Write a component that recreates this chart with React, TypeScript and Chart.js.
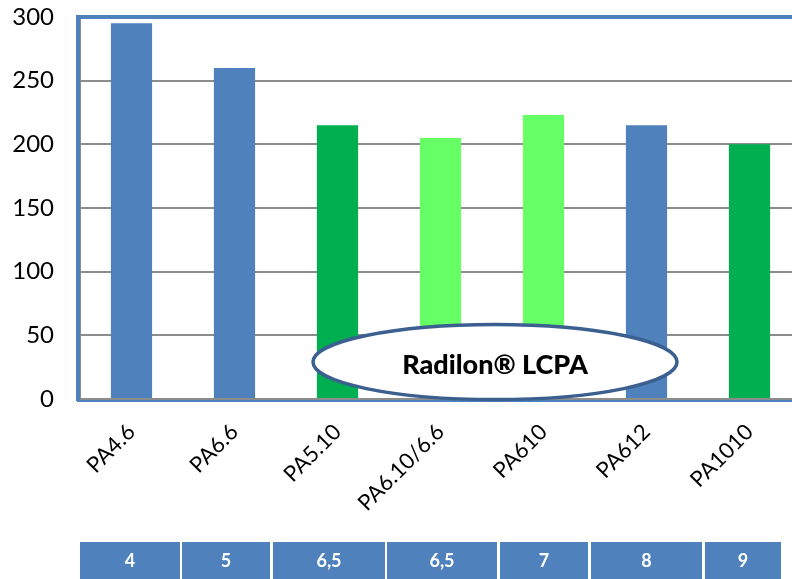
import { useEffect, useRef } from "react";
import { Chart, registerables } from "chart.js";

Chart.register(...registerables);

const categories = ["PA4.6", "PA6.6", "PA5.10", "PA6.10/6.6", "PA610", "PA612", "PA1010"];
const meltingPoints = [295, 260, 215, 205, 223, 215, 200];
const materialGroups = ["standard", "standard", "lcpa", "lcpaBlend", "lcpaBlend", "standard", "lcpa"];
const yTickValues = [0, 50, 100, 150, 200, 250, 300];
const carbonRow = ["4", "5", "6,5", "6,5", "7", "8", "9"];
const calloutText = "Radilon® LCPA";

const groupColors: Record<string, string> = {
  standard: "#4f81bd",
  lcpa: "#00b050",
  lcpaBlend: "#66ff66",
};

const FONT = "Lato, 'Open Sans', sans-serif";

// table cell edges relative to chart area left (layout only)
const cellEdges = [
  [0, 100],
  [102, 190],
  [193, 305],
  [307, 417],
  [420, 508],
  [511, 622],
  [625, 701],
];

const framePlugin = {
  id: "frameAndCallout",
  afterDatasetsDraw(chart: any) {
    const { ctx, chartArea, scales } = chart;
    const { left, top, right, bottom } = chartArea;
    ctx.save();
    // blue frame
    ctx.strokeStyle = "#4f81bd";
    ctx.lineWidth = 4;
    ctx.beginPath();
    ctx.moveTo(left - 2, bottom + 2);
    ctx.lineTo(left - 2, top);
    ctx.lineTo(right + 20, top);
    ctx.stroke();
    ctx.lineWidth = 2;
    ctx.beginPath();
    ctx.moveTo(left - 3, bottom + 2);
    ctx.lineTo(right + 20, bottom + 2);
    ctx.stroke();

    // callout ellipse
    const x = scales.x;
    const y = scales.y;
    const cx = (x.getPixelForValue(3) + x.getPixelForValue(4)) / 2 + 3;
    const cy = y.getPixelForValue(29);
    ctx.beginPath();
    ctx.ellipse(cx, cy, 182, 37.5, 0, 0, Math.PI * 2);
    ctx.fillStyle = "#ffffff";
    ctx.fill();
    ctx.lineWidth = 3.5;
    ctx.strokeStyle = "#3b5f8f";
    ctx.stroke();
    ctx.fillStyle = "#000000";
    ctx.font = `900 27px ${FONT}`;
    ctx.textAlign = "center";
    ctx.textBaseline = "middle";
    ctx.fillText(calloutText, cx, cy + 3);

    // bottom table
    const tableTop = bottom + 143;
    ctx.font = `bold 18px ${FONT}`;
    carbonRow.forEach((v, i) => {
      const [a, b] = cellEdges[i];
      ctx.fillStyle = "#4f81bd";
      ctx.fillRect(left + a, tableTop, b - a, 60);
      ctx.fillStyle = "#ffffff";
      ctx.fillText(v, left + (a + b) / 2, tableTop + 19);
    });
    ctx.restore();
  },
};

export default function App() {
  const ref = useRef<HTMLCanvasElement>(null);
  useEffect(() => {
    if (!ref.current) return;
    const chart = new Chart(ref.current, {
      type: "bar",
      data: {
        labels: categories,
        datasets: [
          {
            data: meltingPoints,
            backgroundColor: materialGroups.map((g) => groupColors[g]),
            barPercentage: 0.4,
            categoryPercentage: 1,
          },
        ],
      },
      options: {
        animation: false,
        responsive: true,
        maintainAspectRatio: false,
        layout: { padding: { top: 17, right: 11, left: 0, bottom: 0 } },
        plugins: { legend: { display: false }, tooltip: { enabled: false }, title: { display: false } },
        scales: {
          x: {
            grid: { display: false, drawTicks: false },
            border: { display: true, color: "#8c8c8c", width: 2 },
            ticks: {
              autoSkip: false,
              minRotation: 45,
              maxRotation: 45,
              padding: 20,
              color: "#000",
              font: { family: FONT, size: 22 },
            },
            afterFit: (s: any) => {
              s.height = 180;
              s.paddingLeft = 0;
              s.paddingRight = 0;
              s.paddingTop = 0;
              s.paddingBottom = 0;
            },
          },
          y: {
            min: 0,
            max: 300,
            afterBuildTicks: (s: any) => {
              s.ticks = yTickValues.map((v) => ({ value: v }));
            },
            grid: { color: "#8c8c8c", lineWidth: 2, drawTicks: false },
            border: { display: true, color: "#8c8c8c", width: 2 },
            ticks: {
              padding: 26,
              color: "#000",
              font: { family: FONT, size: 24 },
            },
            afterFit: (s: any) => {
              s.width = 80;
              s.paddingTop = 0;
              s.paddingBottom = 0;
            },
          },
        },
      },
      plugins: [framePlugin],
    });
    return () => chart.destroy();
  }, []);

  return (
    <div style={{ position: "fixed", left: 0, top: 0, width: 792, height: 579, overflow: "hidden", background: "#fff" }}>
      <div style={{ position: "absolute", left: 0, top: 0, width: 812, height: 579 }}>
        <canvas ref={ref} />
      </div>
    </div>
  );
}
